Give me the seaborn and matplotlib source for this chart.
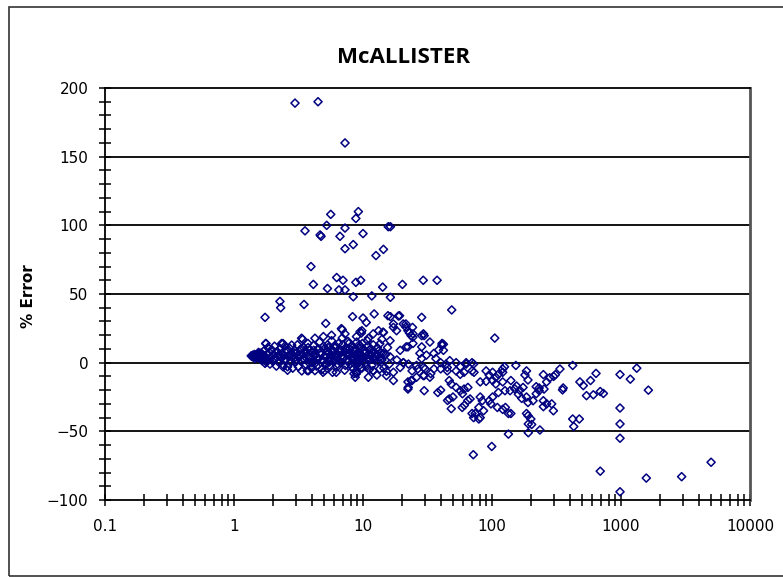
import matplotlib
matplotlib.use("Agg")
import matplotlib.pyplot as plt
import matplotlib.ticker as mticker
from matplotlib.patches import Rectangle
import seaborn as sns
import pandas as pd

sns.set_style("white")
plt.rcParams['font.family'] = ['DejaVu Sans']
plt.rcParams['text.color'] = 'black'
plt.rcParams['xtick.color'] = 'black'
plt.rcParams['ytick.color'] = 'black'

navy = "#000080"

# puntos altos (error > 40 %)
high_x = [2.97, 4.48, 7.25, 5.62, 9.2, 8.8, 5.23, 3.55, 7.25, 4.73, 4.65, 6.63, 10.0, 15.7, 16.3,
          8.4, 7.25, 14.4, 12.6, 3.95, 6.25, 7.0, 4.12, 8.8, 9.6, 14.2, 20.2, 29.3, 37.5, 5.3,
          6.5, 7.25, 2.27, 2.3, 3.49, 8.4, 11.7, 16.3, 48.7]
high_y = [189, 190, 160, 108, 110, 105, 100, 96, 98, 92, 93, 92, 94, 99, 99,
          86, 83, 82.5, 78, 70, 62, 60, 57, 58.5, 60, 55, 57, 60, 60, 54,
          53, 53, 44.6, 40, 42.4, 48, 48.6, 47.6, 38.4]

# dispersion media (0 a 40 %)
mid_x = [1.74, 5.14, 8.3, 10.0, 10.6, 12.2, 16.3, 19.2, 28.5, 6.9, 9.7, 13.2, 14.4, 17.2, 18.2,
         21.5, 24.2, 22.9, 23.6, 29.8, 33, 42, 3.4, 1.77, 2.4, 105, 3.34, 4.24, 4.93, 5.7,
         6.8, 7.25, 9.5, 11, 1.76, 2.34, 2.8, 15.6, 17.2, 20.5, 22.3, 24.3, 28.5, 41, 42,
         9.8, 12, 14.3, 13.5, 16.2, 19.4, 21.6, 27.6, 31, 36.7, 22.3, 24.4, 28.5, 29.4, 24.4,
         21.5, 18.8, 14.3, 16.2, 18.3, 20.5, 28.5, 35.4, 38.5, 40.9]
mid_y = [33, 28.6, 33.5, 32.5, 29.3, 35.5, 33.5, 34.2, 33, 24, 21.6, 23.3, 22, 25.7, 23.3,
         28.2, 25.7, 21.6, 19.7, 19.7, 15, 13.4, 17, 13.9, 13.9, 17.9, 17.8, 17.8, 19, 20,
         24.8, 21, 22.6, 17.8, 14, 14, 12.8, 34.2, 28.2, 28.2, 23.3, 18.5, 19.7, 14, 9,
         23.3, 21, 22.2, 13.7, 16, 9, 11.5, 6.8, 5.5, 3, 11.5, 14, 11.5, 21, 21,
         26, 34, 6.8, 4.3, 2, 0, 3, 6.8, 9.2, 12.8]

# banda densa cerca de 0 %
band_x = [1.36, 1.38, 1.40, 1.42, 1.44, 1.46, 1.48, 1.50, 1.52, 1.54, 1.56, 1.58, 1.60, 1.62,
          1.64, 1.66, 1.68, 1.70, 1.45, 1.55, 1.65,
          1.72, 1.75, 1.78, 1.8, 1.83, 1.85, 1.88, 1.9, 1.93, 1.96, 2.0, 2.03, 2.06, 2.1, 2.13,
          2.16, 2.2, 2.24, 2.28, 2.32, 2.36, 2.4, 2.44, 2.48, 2.52, 2.56, 2.6, 2.65, 2.7, 2.75,
          2.8, 2.85, 2.9, 2.95,
          3.0, 3.05, 3.1, 3.15, 3.2, 3.25, 3.3, 3.35, 3.4, 3.45, 3.5, 3.56, 3.62, 3.68, 3.74,
          3.8, 3.86, 3.92, 3.98, 4.05, 4.12, 4.2, 4.28, 4.36, 4.44, 4.52, 4.6, 4.7, 4.8, 4.9,
          5.0, 5.1, 5.2, 5.3, 5.4, 5.5, 5.6, 5.7, 5.8, 5.9,
          6.0, 6.1, 6.2, 6.3, 6.45, 6.6, 6.75, 6.9, 7.05, 7.2, 7.35, 7.5, 7.65, 7.8, 7.95,
          8.1, 8.3, 8.5, 8.7, 8.9, 9.1, 9.3, 9.5, 9.7, 9.9,
          10.2, 10.5, 10.8, 11.1, 11.4, 11.7, 12.0, 12.4, 12.8, 13.2, 13.6, 14.0, 14.5, 15.0,
          15.5, 16.0]
band_y = [5, 4.5, 5.5, 4, 6, 5, 4.2, 5.8, 3.6, 6.5, 4.8, 5.2, 3.2, 7,
          4.5, 6, 2.5, 5, 3, 7.5, 1.5,
          9, 3, 0.5, 6, 11, 2, 7.5, -1, 4, 9.5, 1, 6, 12, 3, -2.5,
          8, 5, 0, 10, 3.5, 7, -1.5, 5, 12, 2, 8.5, -3, 4.5, 10.5, 1,
          6.5, -4, 3, 9,
          0.5, 7, 13, -3, 4, 9.5, 1.5, -6, 6, 11, 2.5, 8, -1.5, 5, 14,
          0, 9, 3.5, -4, 7, 12.5, 1, 5.5, -2.5, 9.5, 3, 15, 6, -5, 1.5,
          10, 4, -1, 13, 7, 0.5, 3.5, 16, -7, 8.5,
          2, 11, 5, -3, 14, 7.5, 0, 18, 4, -5.5, 10, 2.5, 15.5, 6, -1,
          12, 3.5, -8, 8, 19, 1, 11, 5, -3.5, 14,
          7, 0, 16, 3, 10, -2, 13, 5, -9, 8.5, 2, 17, -4, 6,
          11, -1]

# nucleo mas denso de la banda (x 2 a 14)
core_x = [2.05, 2.25, 2.45, 2.62, 2.82, 3.02, 3.22, 3.42, 3.62, 3.82, 4.02, 4.22, 4.42, 4.62,
          4.85, 5.05, 5.25, 5.45, 5.65, 5.85, 6.05, 6.25, 6.45, 6.65, 6.85, 7.05, 7.25, 7.45,
          7.65, 7.85, 8.05, 8.25, 8.45, 8.65, 8.85, 9.05, 9.25, 9.45, 9.65, 9.85, 10.1, 10.4,
          10.7, 11.0, 11.3, 11.6, 11.9, 12.3, 12.7, 13.1, 13.5, 14.0,
          2.15, 2.55, 2.95, 3.35, 3.75, 4.15, 4.55, 4.95, 5.35, 5.75, 6.15, 6.55, 6.95, 7.35,
          7.75, 8.15, 8.55, 8.95, 9.35, 9.75, 10.3, 10.9, 11.5, 12.1, 12.9, 13.8,
          6.35, 6.8, 7.3, 7.7, 8.2, 8.6, 9.0, 9.4, 9.8, 10.6, 11.2, 5.1, 5.5, 4.3]
core_y = [3, 6, 2, 5, 4, 2, 6, 3, 8, 4, 1, 6, 3, 7,
          2, 5, 8, 3, 6, 1, 4, 7, 2, 9, 5, 3, 8, 6,
          1, 10, 4, 7, 2, 9, 5, 3, 8, 6, 2, 5, 4, 7,
          3, 6, 2, 5, 8, 3, 6, 1, 4, 2,
          8, 9, 7, 10, 11, 9, 10, 12, 11, 9, 12, 10, 13, 11,
          14, 12, 10, 15, 13, 11, 9, 12, 10, 8, 11, 7,
          -1, 0, -2, 1, -3, -1, 0, -2, -4, -3, -5, -1, -2, 0]

# cola descendente (tamanos grandes)
tail_x = [422, 982, 1324, 1180, 1629, 982, 982, 982, 422, 475, 430, 640, 580, 480, 510, 540, 610,
          690, 730, 982, 690, 1570, 2950, 4990, 71.6, 99.5, 134, 191, 191, 203, 336, 356, 352,
          299, 290, 153, 125, 121, 250, 300, 310, 185, 180, 190, 140, 150, 140, 185, 190, 200,
          185, 190, 208, 220, 232, 253, 265, 280, 220, 232, 250, 265, 250, 155, 164, 174, 160,
          170, 81, 90, 101, 107, 121, 81, 84, 79, 86, 81, 74, 101, 95, 98, 110, 121, 127, 134,
          112, 126, 138, 90, 101, 112, 121, 95, 107, 46.6, 49.8, 45.2, 48.3, 58.7, 61, 65, 67.6,
          48.3, 52.7, 56.7, 60.7, 65, 59, 52.7, 56.7, 60.7, 70, 72.5, 56.7, 63, 70, 72, 72, 79,
          70, 38, 29.8, 22.3, 22.3, 24, 26, 29.8, 33.5, 24, 26.6, 30.3, 35.5, 40, 45, 40, 44,
          47, 45, 12, 13.5, 17.2, 19.4, 17.2, 15.2, 52.7, 63, 20.6, 22.5, 26, 29.4, 3.78, 4.24,
          5.05, 3.98, 8.9, 11, 8.7, 1.74, 2.4, 2.6, 3.7, 4.9, 6.2, 8.9, 8.4, 12, 15.2, 23.6,
          29.3, 33, 22.4, 40, 46.6, 235]
tail_y = [-2, -8.6, -4, -12, -20, -33, -44.6, -55, -41, -41, -46.5, -7.8, -13, -14, -16.7, -24,
          -23.4, -21, -22.4, -94, -79, -84, -83, -72.5, -67, -61, -52, -51, -44.6, -45, -4.6,
          -18.4, -19.8, -35, -30, -2, -3, -4.6, -8.7, -10, -8.7, -6, -9, -12.6, -13, -19, -37,
          -37, -38.6, -41, -25, -29, -27.7, -22.6, -20.4, -19.2, -14, -11, -17.5, -18.4, -27.7,
          -30, -32, -17, -20, -18, -23, -26, -14, -13.6, -13, -15.5, -14, -25, -27.7, -32.6,
          -35, -40, -37, -25, -27.7, -30, -32.6, -34, -32.6, -37, -21.7, -20.4, -20.4, -6, -7,
          -8.5, -7, -9, -10.6, -26.4, -25, -27.5, -33.5, -32.6, -31, -27.5, -26.4, -15.6, -18,
          -20.4, -19.2, -18, -22.6, -6, -8.5, -7, -6, -7, -3, 0, 0, -1, -40, -41, -37, -21.7,
          -20.4, -19.2, -14, -13, -10.6, -9.4, -8, -6, -4.5, -4.5, -4.5, -4.5, -6, 0, -1, 1.5,
          -3.5, -5.8, -4.5, -7, -3.5, -13, -9.4, 0, -1, 0, -1, -2, -3.5, -5.8, -5.8, -5.8, 0,
          -7, -10.6, -10.6, -0.5, -3, -5.5, -5.8, -7, -7, -8, -4.5, -6, -6.3, -13, -9.4, -10.6,
          -18, -20, -13, -49]

df = pd.DataFrame({
    "size": high_x + mid_x + band_x + core_x + tail_x,
    "error": high_y + mid_y + band_y + core_y + tail_y,
})

fig = plt.figure(figsize=(7.83, 5.77), dpi=100)
ax = fig.add_axes([0.1341, 0.1334, 0.8238, 0.7141])

sns.scatterplot(data=df, x="size", y="error", marker="D", s=17, color=navy,
                linewidth=1.1, ax=ax, legend=False, zorder=3)
pts = ax.collections[0]
pts.set_facecolor("none")
pts.set_edgecolor(navy)

ax.set_xscale("log")
ax.set_xlim(0.1, 10000)
ax.set_ylim(-100, 200)

for yy in [-50, 0, 50, 100, 150]:
    ax.axhline(yy, color="black", lw=1.3, zorder=1)

ax.xaxis.set_major_locator(mticker.LogLocator(base=10, numticks=10))
ax.xaxis.set_minor_locator(mticker.LogLocator(base=10, subs=range(2, 10), numticks=20))
ax.xaxis.set_major_formatter(mticker.FuncFormatter(lambda v, p: f"{v:g}"))
ax.xaxis.set_minor_formatter(mticker.NullFormatter())
ax.yaxis.set_major_locator(mticker.MultipleLocator(50))
ax.yaxis.set_minor_locator(mticker.MultipleLocator(10))

ax.tick_params(axis="both", which="both", direction="inout", length=8, width=1.1,
               color="black", left=True, bottom=True)
ax.tick_params(axis="x", which="major", pad=10, labelsize=11)
ax.tick_params(axis="y", which="major", pad=8, labelsize=11)

for s in ["left", "bottom", "top"]:
    ax.spines[s].set_color("black")
    ax.spines[s].set_linewidth(1.3)
ax.spines["right"].set_color("#555555")
ax.spines["right"].set_linewidth(2)

ax.set_xlabel("")
ax.set_ylabel("")
fig.text(0.036, 0.487, "% Error", rotation=90, ha="center", va="center",
         fontsize=11, fontweight="bold")
fig.text(0.516, 0.901, "McALLISTER", ha="center", va="center", fontsize=16,
         fontweight="bold", family=["Open Sans", "DejaVu Sans"])

fig.patches.append(Rectangle((9 / 783, 1 / 577), 1.0, 1 - 8 / 577, transform=fig.transFigure,
                             fill=False, edgecolor="#333333", lw=1.2, clip_on=False))

fig.savefig("out.png", dpi=100)
